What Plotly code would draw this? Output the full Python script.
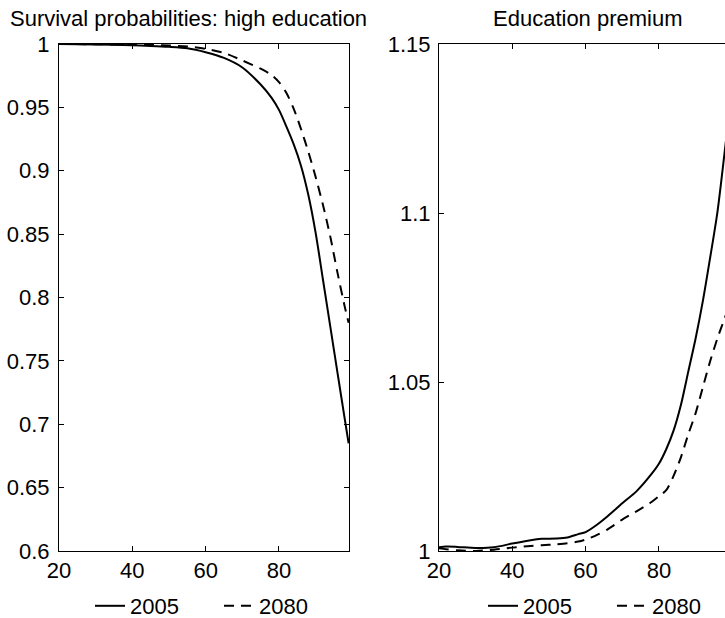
import plotly.graph_objects as go

# ---- data: survival probabilities (left panel) ----
ages_surv = [20, 30, 40, 45, 50, 55, 60, 65, 70, 75, 78, 80, 82, 84, 86, 88, 90, 92, 94, 96, 98, 99]
surv_2005 = [1.0, 0.9997, 0.9990, 0.9985, 0.9978, 0.9966, 0.9935, 0.9890, 0.9815, 0.9680, 0.9575,
             0.9480, 0.9350, 0.9210, 0.9040, 0.8810, 0.8510, 0.8140, 0.7770, 0.7400, 0.7030, 0.6850]
surv_2080 = [1.0, 0.9998, 0.9995, 0.9992, 0.9988, 0.9980, 0.9962, 0.9930, 0.9870, 0.9805, 0.9755,
             0.9700, 0.9615, 0.9490, 0.9330, 0.9150, 0.8950, 0.8730, 0.8480, 0.8190, 0.7920, 0.7800]

# ---- data: education premium (right panel) ----
ages_prem = [20, 22, 25, 30, 35, 40, 45, 48, 52, 55, 58, 60, 63, 66, 70, 74, 78, 80, 82, 84, 86, 88,
             90, 92, 94, 96, 98, 99]
prem_2005 = [1.0011, 1.0013, 1.0012, 1.0009, 1.0011, 1.0022, 1.0032, 1.0036, 1.0037, 1.0040, 1.0050,
             1.0056, 1.0077, 1.0103, 1.0141, 1.0178, 1.0228, 1.0258, 1.0301, 1.0356, 1.0432, 1.0530,
             1.0628, 1.0740, 1.0869, 1.1005, 1.1186, 1.1280]
prem_2080 = [1.0008, 1.0005, 1.0002, 1.0000, 1.0004, 1.0010, 1.0015, 1.0017, 1.0020, 1.0023, 1.0028,
             1.0034, 1.0047, 1.0064, 1.0093, 1.0118, 1.0145, 1.0162, 1.0180, 1.0222, 1.0277, 1.0345,
             1.0407, 1.0485, 1.0562, 1.0630, 1.0690, 1.0720]

series_names = ["2005", "2080"]
titles = ["Survival probabilities: high education", "Education premium"]

x_ticks = [20, 40, 60, 80]
y_ticks_left = [0.6, 0.65, 0.7, 0.75, 0.8, 0.85, 0.9, 0.95, 1.0]
y_ticklabels_left = ["0.6", "0.65", "0.7", "0.75", "0.8", "0.85", "0.9", "0.95", "1"]
y_ticks_right = [1.0, 1.05, 1.1, 1.15]
y_ticklabels_right = ["1", "1.05", "1.1", "1.15"]

FONT = "Liberation Sans, Arial, Helvetica, sans-serif"
FS = 22
solid = dict(color="black", width=2, shape="spline", smoothing=0.8)
dashed = dict(color="black", width=2, dash="10px,7px", shape="spline", smoothing=0.8)

fig = go.Figure()
fig.add_trace(go.Scatter(x=ages_surv, y=surv_2005, mode="lines", line=solid, name=series_names[0],
                         xaxis="x", yaxis="y", legend="legend"))
fig.add_trace(go.Scatter(x=ages_surv, y=surv_2080, mode="lines", line=dashed, name=series_names[1],
                         xaxis="x", yaxis="y", legend="legend"))
fig.add_trace(go.Scatter(x=ages_prem, y=prem_2005, mode="lines", line=solid, name=series_names[0],
                         xaxis="x2", yaxis="y2", legend="legend2"))
fig.add_trace(go.Scatter(x=ages_prem, y=prem_2080, mode="lines", line=dashed, name=series_names[1],
                         xaxis="x2", yaxis="y2", legend="legend2"))

axis_common = dict(showgrid=False, zeroline=False, showline=True, linecolor="black", linewidth=1,
                   ticks="inside", ticklen=5, tickcolor="black", automargin=False,
                   tickfont=dict(size=FS, color="black"))

W_PLOT = 666.0
H_PLOT = 507.0
legend_common = dict(orientation="h", xanchor="left", y=-(606 - 551) / H_PLOT, yanchor="middle",
                     font=dict(size=FS, color="black"), bgcolor="rgba(0,0,0,0)",
                     entrywidth=84, entrywidthmode="pixels")
fig.update_layout(
    width=725, height=618,
    margin=dict(l=59, r=0, t=44, b=67, pad=0, autoexpand=False),
    plot_bgcolor="white", paper_bgcolor="white",
    font=dict(family=FONT, size=FS, color="black"),
    xaxis=dict(domain=[0, 290 / W_PLOT], range=[20, 99.1], tickvals=x_ticks, anchor="y",
               mirror="ticks", **axis_common),
    yaxis=dict(domain=[0, 1], range=[0.6, 1.0], tickvals=y_ticks_left, ticktext=y_ticklabels_left,
               anchor="x", mirror="ticks", ticklabelstandoff=4, **axis_common),
    xaxis2=dict(domain=[380 / W_PLOT, 1], range=[20, 20 + 286 / 3.665], tickvals=x_ticks, anchor="y2",
                mirror="ticks", **axis_common),
    yaxis2=dict(domain=[0, 1], range=[1.0, 1.15], tickvals=y_ticks_right, ticktext=y_ticklabels_right,
                anchor="x2", mirror=False, ticklabelstandoff=3, **axis_common),
    legend=dict(x=(90 - 59) / W_PLOT, **legend_common),
    legend2=dict(x=(483 - 59) / W_PLOT, **legend_common),
    annotations=[
        dict(text=titles[0], x=(188 - 59) / W_PLOT, y=1 + 25 / H_PLOT, xref="paper", yref="paper",
             xanchor="center", yanchor="middle", showarrow=False, font=dict(size=FS, color="black")),
        dict(text=titles[1], x=(588 - 59) / W_PLOT, y=1 + 25 / H_PLOT, xref="paper", yref="paper",
             xanchor="center", yanchor="middle", showarrow=False, font=dict(size=FS, color="black")),
    ],
)

fig.write_html("out.html", config={"displayModeBar": False},
               post_script="document.body.style.margin='0';")
